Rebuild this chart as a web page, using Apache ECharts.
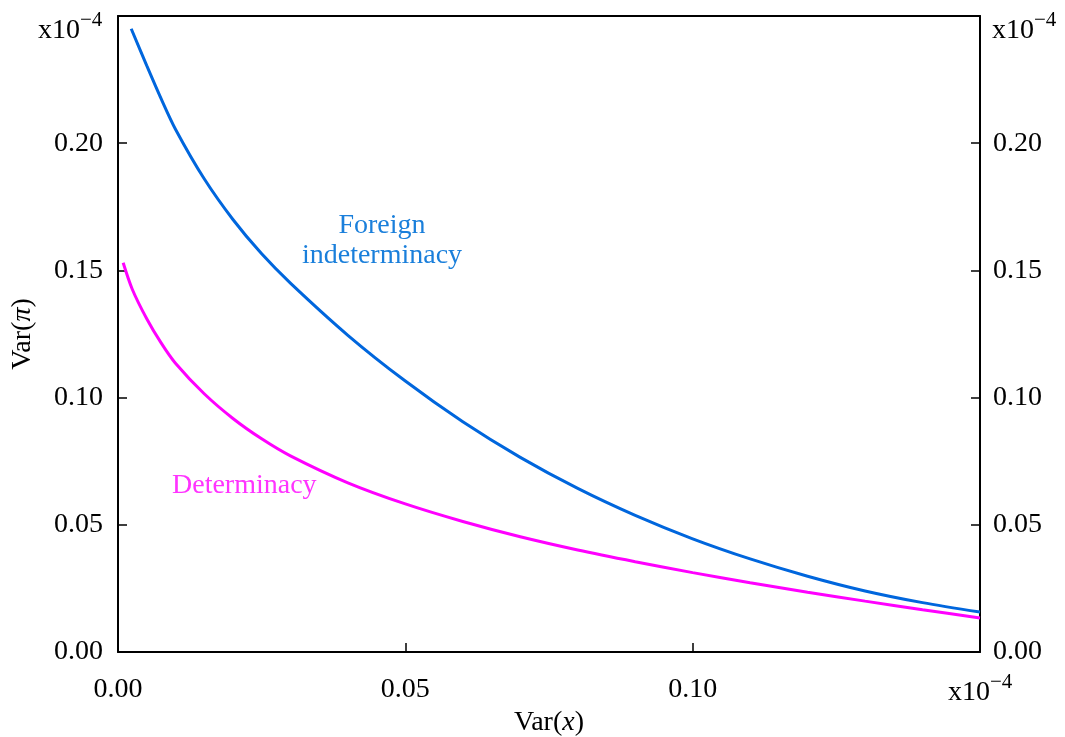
<!DOCTYPE html>
<html>
<head>
<meta charset="utf-8">
<script src="https://cdn.jsdelivr.net/npm/echarts@6/dist/echarts.min.js"></script>
<style>
  html, body { margin: 0; padding: 0; background: #fff; }
  #chart { width: 1065px; height: 737px; }
</style>
</head>
<body>
<div id="chart"></div>
<script>
// values in units of 1e-4
const foreignX = [0.0023, 0.005, 0.0075, 0.01, 0.015, 0.02, 0.025, 0.03, 0.04, 0.05, 0.06, 0.07, 0.08, 0.09, 0.10, 0.11, 0.12, 0.13, 0.14, 0.15];
const foreignY = [0.245, 0.2305, 0.2175, 0.2055, 0.186, 0.17, 0.1565, 0.145, 0.1245, 0.1065, 0.0905, 0.0765, 0.0643, 0.0537, 0.0445, 0.0366, 0.0298, 0.024, 0.0194, 0.0157];
const detX = [0.0009, 0.0025, 0.005, 0.0075, 0.01, 0.015, 0.02, 0.025, 0.03, 0.04, 0.05, 0.06, 0.07, 0.08, 0.09, 0.10, 0.11, 0.12, 0.13, 0.14, 0.15];
const detY = [0.153, 0.1425, 0.131, 0.1215, 0.1135, 0.1015, 0.0918, 0.0838, 0.0771, 0.0665, 0.0582, 0.0513, 0.0453, 0.0401, 0.0355, 0.0312, 0.0272, 0.0235, 0.02, 0.0166, 0.0134];
const xTicks = [0, 0.05, 0.10];
const yTicks = [0, 0.05, 0.10, 0.15, 0.20];

const font = 'Liberation Serif';
const chart = echarts.init(document.getElementById('chart'));

const pairs = (xs, ys) => xs.map((x, i) => [x, ys[i]]);
const tickFmt = list => v => list.some(t => Math.abs(t - v) < 1e-9) ? v.toFixed(2) : '';
const sci = {
  b: { fontFamily: font, fontSize: 28, color: '#000', verticalAlign: 'bottom' },
  sup: { fontFamily: font, fontSize: 21, color: '#000', verticalAlign: 'top', padding: [0, 0, 14, 0] }
};
const sciText = (left, top) => ({
  type: 'text', left: left, top: top,
  style: { text: '{b|x10}{sup|−4}', rich: sci }
});
const nameRich = {
  n: { fontFamily: font, fontSize: 28, color: '#000' },
  i: { fontFamily: font, fontSize: 28, color: '#000', fontStyle: 'italic' }
};

function yAxisFor(pos, margin) {
  return {
    type: 'value', min: 0, max: 0.25, interval: 0.05, position: pos,
    axisLine: { show: true, onZero: false, lineStyle: { color: '#000', width: 2 } },
    axisTick: { show: true, inside: true, length: 9, lineStyle: { color: '#000', width: 1.5 } },
    splitLine: { show: false },
    axisLabel: { fontFamily: font, fontSize: 28, color: '#000', margin: margin, formatter: tickFmt(yTicks) }
  };
}

const yLeft = yAxisFor('left', 15);
yLeft.name = '{n|Var(}{i|π}{n|)}';
yLeft.nameLocation = 'middle';
yLeft.nameGap = 81;
yLeft.nameRotate = 90;
yLeft.nameTextStyle = { rich: nameRich };
const yRight = yAxisFor('right', 13);

chart.setOption({
  animation: false,
  grid: { left: 118, right: 85, top: 16, bottom: 85, containLabel: false, outerBoundsMode: 'none' },
  xAxis: [{
    type: 'value', min: 0, max: 0.15, interval: 0.05, position: 'bottom',
    axisLine: { show: true, onZero: false, lineStyle: { color: '#000', width: 2 } },
    axisTick: { show: true, inside: true, length: 9, lineStyle: { color: '#000', width: 1.5 } },
    splitLine: { show: false },
    axisLabel: { fontFamily: font, fontSize: 28, color: '#000', margin: 24, formatter: tickFmt(xTicks) },
    name: '{n|Var(}{i|x}{n|)}', nameLocation: 'middle', nameGap: 57,
    nameTextStyle: { rich: nameRich }
  }, {
    type: 'value', min: 0, max: 0.15, interval: 0.05, position: 'top',
    axisLine: { show: true, onZero: false, lineStyle: { color: '#000', width: 2 } },
    axisTick: { show: false }, axisLabel: { show: false }, splitLine: { show: false }
  }],
  yAxis: [yLeft, yRight],
  graphic: [
    sciText(38, 10),
    sciText(992, 10),
    sciText(948, 672),
    {
      type: 'text', x: 382, y: 211,
      style: { text: 'Foreign\nindeterminacy', fontFamily: font, fontSize: 28, fill: '#1a7fdb', align: 'center', verticalAlign: 'top', lineHeight: 30 }
    },
    {
      type: 'text', left: 172, top: 472,
      style: { text: 'Determinacy', fontFamily: font, fontSize: 28, fill: '#ff33ff' }
    }
  ],
  series: [{
    name: 'Foreign indeterminacy', type: 'line', xAxisIndex: 0, yAxisIndex: 0,
    data: pairs(foreignX, foreignY), smooth: 0.3, showSymbol: false,
    lineStyle: { color: '#0066dd', width: 3 }
  }, {
    name: 'Determinacy', type: 'line', xAxisIndex: 0, yAxisIndex: 0,
    data: pairs(detX, detY), smooth: 0.3, showSymbol: false,
    lineStyle: { color: '#ff00ff', width: 3 }
  }]
});
</script>
</body>
</html>
